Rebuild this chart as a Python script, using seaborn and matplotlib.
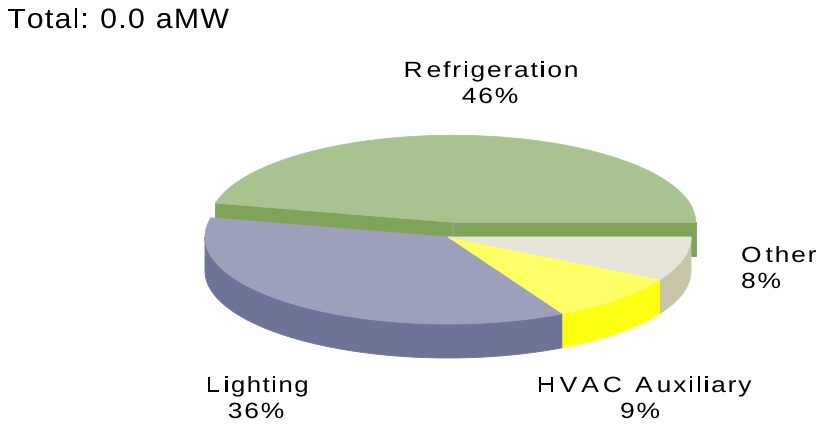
import numpy as np
import matplotlib
matplotlib.use("Agg")
import matplotlib.pyplot as plt
import seaborn as sns
from matplotlib import font_manager
from matplotlib.font_manager import FontProperties
from matplotlib.ft2font import FT2Font
from matplotlib.textpath import TextPath
from matplotlib.patches import PathPatch
from matplotlib.transforms import Affine2D

# End-use shares of the load
categories = ["Refrigeration", "Lighting", "HVAC Auxiliary", "Other"]
shares = [46, 36, 9, 8]
explode = [0.17, 0.0, 0.0, 0.0]
total_amw = 0.0

top_colors = ["#A8C290", "#9CA0BA", "#FFFF66", "#E7E5DA"]
side_colors = ["#80A35A", "#6E7398", "#FFFF14", "#C9C5A9"]

sns.set_theme(style="white")
FAMILY = "Liberation Sans"
plt.rcParams["font.family"] = [FAMILY, "DejaVu Sans"]

W, H, DPI = 822, 430, 100
fig = plt.figure(figsize=(W / DPI, H / DPI), dpi=DPI)
ax = fig.add_axes([0, 0, 1, 1])
ax.set_xlim(0, W)
ax.set_ylim(H, 0)
ax.axis("off")

# 3-D pie geometry (screen units, y grows downward)
cx, cy = 448.0, 237.0
rx, ry = 243.0, 87.0
depth = 34.0


def rim(c, t):
    return np.array([c[0] + rx * np.cos(t), c[1] - ry * np.sin(t)])


fracs = np.array(shares, dtype=float) / sum(shares)
edges = np.concatenate([[0.0], np.cumsum(fracs)]) * 2 * np.pi
wedges = []
for i in range(len(shares)):
    t1, t2 = edges[i], edges[i + 1]
    mid = 0.5 * (t1 + t2)
    c = (cx + explode[i] * rx * np.cos(mid), cy - explode[i] * ry * np.sin(mid))
    wedges.append((t1, t2, c))

down = np.array([0, depth])

# cut faces of pulled-out slices
for i, (t1, t2, c) in enumerate(wedges):
    if explode[i] <= 0:
        continue
    for t, n in ((t1, t1 - np.pi / 2), (t2, t2 + np.pi / 2)):
        if np.sin(n) < 0:
            p0, p1 = np.array(c), rim(c, t)
            poly = np.array([p0, p1, p1 + down, p0 + down])
            ax.fill(poly[:, 0], poly[:, 1], color=side_colors[i], lw=0.6)

# outer walls (front half only)
for i, (t1, t2, c) in enumerate(wedges):
    a, b = max(t1, np.pi), min(t2, 2 * np.pi)
    if b <= a:
        continue
    ts = np.linspace(a, b, 120)
    upper = np.array([rim(c, t) for t in ts])
    lower = upper[::-1] + down
    poly = np.vstack([upper, lower])
    ax.fill(poly[:, 0], poly[:, 1], color=side_colors[i], lw=0.6)

# top faces
for i, (t1, t2, c) in enumerate(wedges):
    ts = np.linspace(t1, t2, 200)
    arc = np.array([rim(c, t) for t in ts])
    poly = np.vstack([[c], arc])
    ax.fill(poly[:, 0], poly[:, 1], color=top_colors[i], lw=0.6)


# wide, letter-spaced text drawn as glyph outlines
_prop = FontProperties(family=FAMILY)
_font_path = font_manager.findfont(_prop)


def advances(s, em):
    f = FT2Font(_font_path)
    f.set_size(em, 72)
    return [f.load_char(ord(ch)).linearHoriAdvance / 65536.0 for ch in s]


def wide_text(x, baseline, s, em, sx, narrow, wide, align="left"):
    adv = [a * sx for a in advances(s, em)]
    gp = [wide if ch.isupper() else narrow for ch in s[:-1]] + [0]
    width = sum(adv) + sum(gp)
    pos = x - width / 2 if align == "center" else x
    for ch, a, g in zip(s, adv, gp):
        if ch != " ":
            tp = TextPath((0, 0), ch, size=em, prop=_prop)
            tr = Affine2D().scale(sx, -1).translate(pos, baseline)
            ax.add_patch(PathPatch(tr.transform_path(tp), facecolor="black",
                                   edgecolor="none", lw=0))
        pos += a + g


pct = [f"{s / sum(shares) * 100:.0f}%" for s in shares]
EM, SX = 22.0, 1.2      # label glyph size and width
NG, WG = 1.8, 4.0       # letter gaps
LINE = 26               # line step

wide_text(7, 28, f"Total: {total_amw:.1f} aMW", 28.0, 1.08, 1.3, 1.3)

wide_text(491, 77, categories[0], EM, SX, NG, WG, "center")
wide_text(490, 77 + LINE, pct[0], EM, SX, NG, WG, "center")

wide_text(257, 392, categories[1], EM, 1.17, 1.5, WG, "center")
wide_text(256, 392 + LINE, pct[1], EM, SX, NG, WG, "center")

wide_text(644, 392, categories[2], EM, SX, NG, WG, "center")
wide_text(640, 392 + LINE, pct[2], EM, SX, NG, WG, "center")

wide_text(741, 262, categories[3], EM, SX, NG, WG)
wide_text(741, 262 + LINE, pct[3], EM, SX, NG, WG)

fig.savefig("out.png", dpi=DPI, facecolor="white")
